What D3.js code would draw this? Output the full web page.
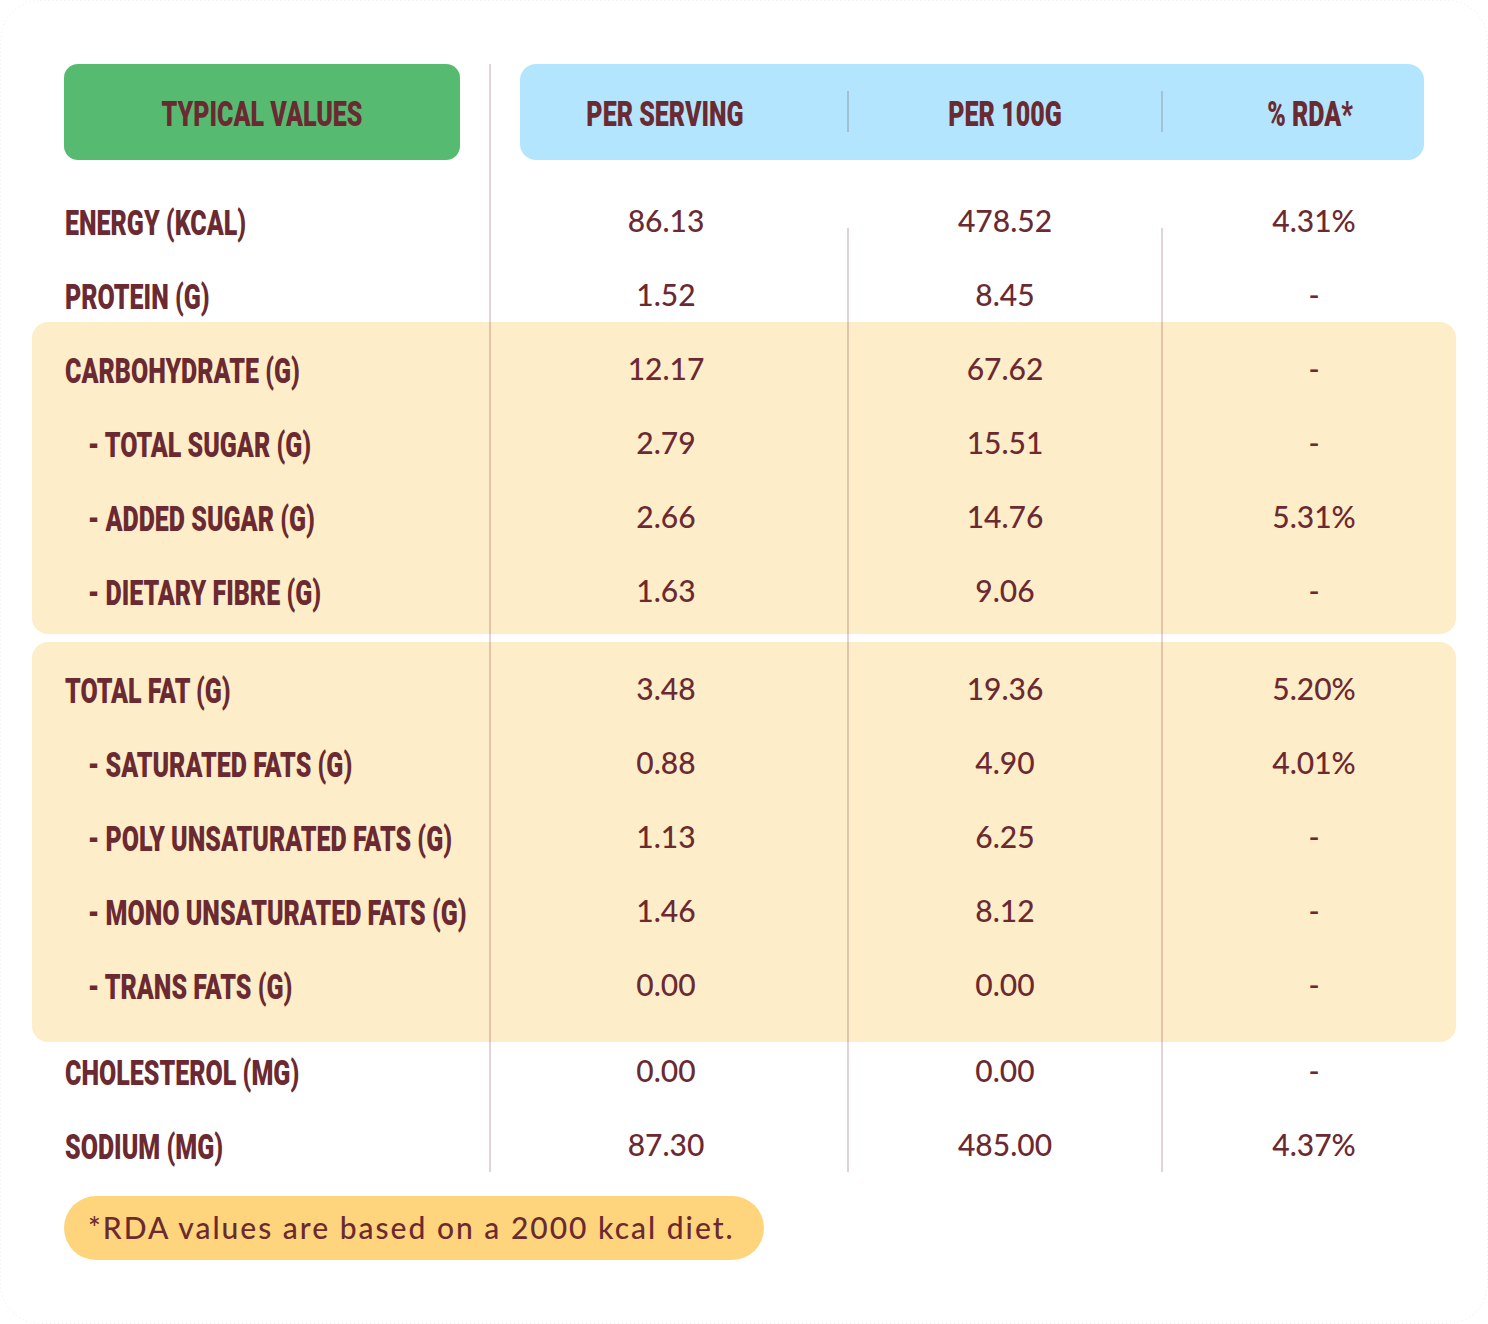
<!DOCTYPE html>
<html>
<head>
<meta charset="utf-8">
<script src="https://cdn.jsdelivr.net/npm/d3@7/dist/d3.min.js"></script>
<style>
  html, body { margin: 0; padding: 0; background: #ffffff; }
  svg { display: block; }
</style>
</head>
<body>
<svg id="chart" width="1488" height="1324"></svg>
<script>
// ---------- DATA ----------
const columns = ["PER SERVING", "PER 100G", "% RDA*"];
const headerLabel = "TYPICAL VALUES";
const nutrients = [
  "ENERGY (KCAL)", "PROTEIN (G)", "CARBOHYDRATE (G)", "- TOTAL SUGAR (G)",
  "- ADDED SUGAR (G)", "- DIETARY FIBRE (G)", "TOTAL FAT (G)",
  "- SATURATED FATS (G)", "- POLY UNSATURATED FATS (G)",
  "- MONO UNSATURATED FATS (G)", "- TRANS FATS (G)", "CHOLESTEROL (MG)", "SODIUM (MG)"
];
const groups = ["", "", "carb", "carb", "carb", "carb", "fat", "fat", "fat", "fat", "fat", "", ""];
const subRow = [false, false, false, true, true, true, false, true, true, true, true, false, false];
const perServing = ["86.13", "1.52", "12.17", "2.79", "2.66", "1.63", "3.48", "0.88", "1.13", "1.46", "0.00", "0.00", "87.30"];
const per100g = ["478.52", "8.45", "67.62", "15.51", "14.76", "9.06", "19.36", "4.90", "6.25", "8.12", "0.00", "0.00", "485.00"];
const rda = ["4.31%", "-", "-", "-", "5.31%", "-", "5.20%", "4.01%", "-", "-", "-", "-", "4.37%"];
const footnote = "*RDA values are based on a 2000 kcal diet.";

// ---------- STYLE / LAYOUT ----------
const W = 1488, H = 1324;
const C = {
  text: "#6b2a32", green: "#56bb71", blue: "#b3e6fe", beige: "#feedc9",
  pill: "#fed57c", rule: "rgba(107,42,50,0.2)"
};
const labelFont = "Roboto, 'Liberation Sans', sans-serif";
const valueFont = "Lato, 'Noto Sans', sans-serif";
const condense = 0.715;

const svg = d3.select("#chart");

// outer faint card
svg.append("rect").attr("x", 0.5).attr("y", 0.5).attr("width", W - 1).attr("height", H - 1)
  .attr("rx", 40).attr("fill", "#fff").attr("stroke", "#ececec").attr("stroke-dasharray", "1 3");

// row positions: uniform step plus extra gap where groups change
const rowStep = 74, firstRowY = 222;
const gapAfter = { 5: 24, 10: 12 };
let acc = 0;
const rowY = nutrients.map((d, i) => {
  const y = firstRowY + i * rowStep + acc;
  if (gapAfter[i]) acc += gapAfter[i];
  return y;
});
const y = d3.scaleOrdinal().domain(nutrients).range(rowY);

const colX = d3.scaleOrdinal().domain(columns).range([666, 1005, 1314]);
const headerColX = d3.scaleOrdinal().domain(columns).range([665, 1005, 1310]);

// group bands
const bandPad = { carb: [48, 42], fat: [48, 56] };
["carb", "fat"].forEach(g => {
  const rows = nutrients.filter((d, i) => groups[i] === g);
  const top = y(rows[0]) - bandPad[g][0];
  const bot = y(rows[rows.length - 1]) + bandPad[g][1];
  svg.append("rect").attr("x", 32).attr("y", top).attr("width", 1456 - 32)
    .attr("height", bot - top).attr("rx", 16).attr("fill", C.beige);
});

// header boxes
svg.append("rect").attr("x", 64).attr("y", 64).attr("width", 460 - 64).attr("height", 96)
  .attr("rx", 14).attr("fill", C.green);
svg.append("rect").attr("x", 520).attr("y", 64).attr("width", 1424 - 520).attr("height", 96)
  .attr("rx", 16).attr("fill", C.blue);

// vertical rules
const lastY = 1172;
svg.append("line").attr("x1", 490).attr("x2", 490).attr("y1", 64).attr("y2", lastY)
  .attr("stroke", C.rule).attr("stroke-width", 2);
[848, 1162].forEach(x => {
  svg.append("line").attr("x1", x).attr("x2", x).attr("y1", 91).attr("y2", 132)
    .attr("stroke", C.rule).attr("stroke-width", 2);
  svg.append("line").attr("x1", x).attr("x2", x).attr("y1", 228).attr("y2", lastY)
    .attr("stroke", C.rule).attr("stroke-width", 2);
});

// header texts
function condensedText(g, txt, x, yb, anchor, size) {
  return g.append("text")
    .attr("transform", `translate(${x},${yb}) scale(${condense},1)`)
    .attr("text-anchor", anchor)
    .attr("font-family", labelFont).attr("font-weight", 900)
    .attr("font-size", size).attr("fill", C.text)
    .text(txt);
}
condensedText(svg, headerLabel, 262, 126, "middle", 35);
columns.forEach(c => condensedText(svg, c, headerColX(c), 126, "middle", 35));

// row labels
nutrients.forEach((n, i) => {
  condensedText(svg, n, subRow[i] ? 88 : 65, y(n) + 13, "start", 35);
});

// values
const valueCols = [perServing, per100g, rda];
columns.forEach((c, ci) => {
  svg.append("g").selectAll("text").data(nutrients).join("text")
    .attr("x", colX(c)).attr("y", n => y(n) + 10)
    .attr("text-anchor", "middle")
    .attr("font-family", valueFont).attr("font-weight", 500)
    .attr("font-size", 30).attr("fill", C.text)
    .text((n, i) => valueCols[ci][i]);
});

// footnote pill
svg.append("rect").attr("x", 64).attr("y", 1196).attr("width", 764 - 64).attr("height", 64)
  .attr("rx", 32).attr("fill", C.pill);
svg.append("text").attr("x", 88).attr("y", 1239)
  .attr("font-family", valueFont).attr("font-weight", 500)
  .attr("font-size", 30).attr("letter-spacing", 2).attr("fill", C.text)
  .text(footnote);
</script>
</body>
</html>
